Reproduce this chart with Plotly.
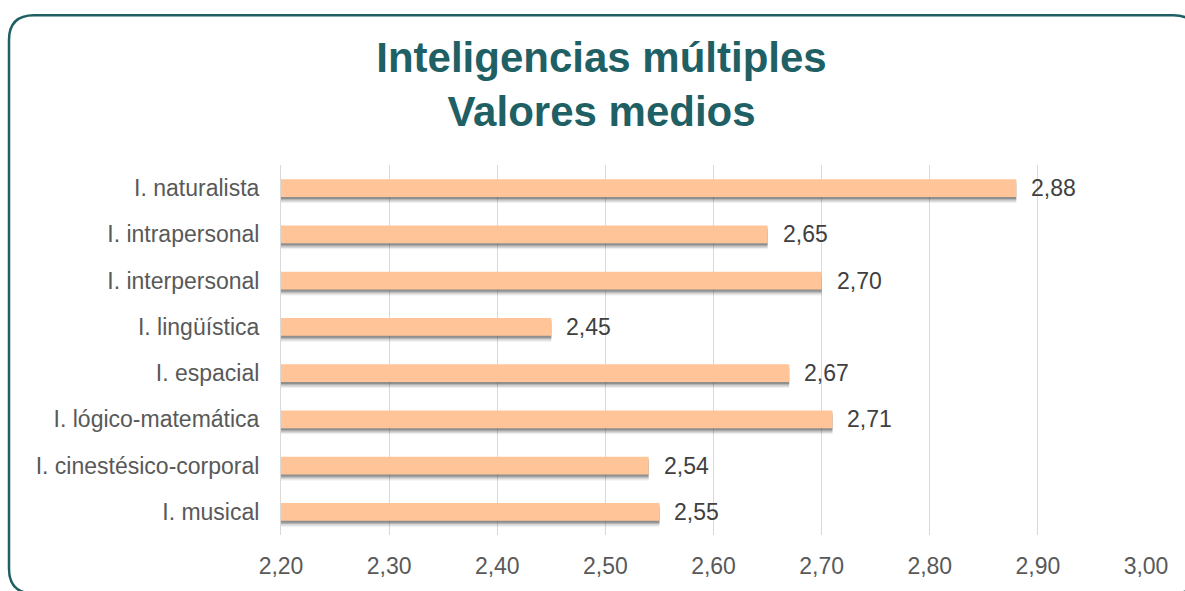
import plotly.graph_objects as go

categories = ["I. musical", "I. cinestésico-corporal", "I. lógico-matemática", "I. espacial",
              "I. lingüística", "I. interpersonal", "I. intrapersonal", "I. naturalista"]
values = [2.55, 2.54, 2.71, 2.67, 2.45, 2.70, 2.65, 2.88]
x_ticks = [2.20, 2.30, 2.40, 2.50, 2.60, 2.70, 2.80, 2.90, 3.00]

W, H = 1185, 591
L, R, T, B = 281, 39, 165, 53
PW, PH = W - L - R, H - T - B

AXIS_MIN = 2.2
BAR_W = 0.385
lengths = [v - AXIS_MIN for v in values]

fig = go.Figure()
# soft shadow layers (blur emulation)
for shift, alpha in [(0.13, 0.08), (0.10, 0.14), (0.07, 0.22), (0.04, 0.30)]:
    fig.add_trace(go.Bar(y=categories, x=lengths, base=AXIS_MIN, orientation="h", width=BAR_W,
                         offset=-BAR_W / 2 - shift,
                         marker=dict(color=f"rgba(60,60,60,{alpha})", line=dict(width=0)),
                         hoverinfo="skip", showlegend=False))
# main bars
fig.add_trace(go.Bar(y=categories, x=lengths, base=AXIS_MIN, orientation="h", width=BAR_W,
                     offset=-BAR_W / 2, marker=dict(color="#FFC599", line=dict(width=0)),
                     showlegend=False))

for c, v in zip(categories, values):
    fig.add_annotation(x=v, y=c, xref="x", yref="y", text=f"{v:.2f}".replace(".", ","),
                       showarrow=False, xanchor="left", xshift=13,
                       font=dict(family="Liberation Sans, Arial", size=23, color="#404040"))


def px2paper(px, py):
    return (px - L) / PW, (H - B - py) / PH


x0, y0, x1, y1, r = 9, 14, 1198, 597, 25
def P(px, py):
    a, b = px2paper(px, py)
    return f"{a:.5f},{b:.5f}"
path = (f"M {P(x0 + r, y0)} L {P(x1 - r, y0)} Q {P(x1, y0)} {P(x1, y0 + r)} "
        f"L {P(x1, y1 - r)} Q {P(x1, y1)} {P(x1 - r, y1)} "
        f"L {P(x0 + r, y1)} Q {P(x0, y1)} {P(x0, y1 - r)} "
        f"L {P(x0, y0 + r)} Q {P(x0, y0)} {P(x0 + r, y0)} Z")
fig.add_shape(type="path", path=path, xref="paper", yref="paper",
              line=dict(color="#1F5F63", width=2.5), layer="above")

fig.update_layout(
    width=W, height=H,
    margin=dict(l=L, r=R, t=T, b=B),
    paper_bgcolor="white", plot_bgcolor="white",
    barmode="overlay",
    separators=",.",
    font=dict(family="Liberation Sans, Arial", size=23, color="#595959"),
    title=dict(text="<b>Inteligencias múltiples<br>Valores medios</b>",
               x=601.5 / W, xref="container", xanchor="center",
               y=0.879, yref="container", yanchor="top",
               font=dict(family="Liberation Sans, Arial", size=42, color="#1F6064")),
    xaxis=dict(range=[2.2, 3.0], tickvals=x_ticks, tickformat=".2f",
               showgrid=True, gridcolor="#D9D9D9", gridwidth=1, zeroline=False,
               showline=False, ticks="outside", ticklen=10, tickcolor="rgba(0,0,0,0)",
               tickfont=dict(size=23, color="#595959")),
    yaxis=dict(categoryorder="array", categoryarray=categories, range=[-0.5, 7.5],
               showgrid=False, zeroline=False, showline=True, linecolor="#D9D9D9", linewidth=1,
               layer="below traces",
               ticks="outside", ticklen=16, tickcolor="rgba(0,0,0,0)",
               tickfont=dict(size=23, color="#595959")),
)

fig.write_html("out.html", config={"displayModeBar": False},
               post_script="document.body.style.margin='0';")
